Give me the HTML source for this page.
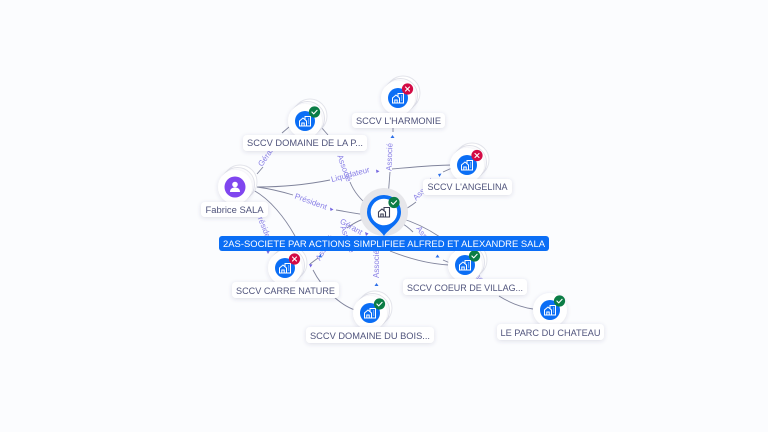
<!DOCTYPE html>
<html>
<head>
<meta charset="utf-8">
<style>
html,body{margin:0;padding:0;background:#fbfcfe;}
svg{display:block;}
text{font-family:"Liberation Sans",sans-serif;}
.l{font-size:9px;fill:#50547c;text-anchor:middle;}
.e{font-size:8px;fill:#8a80e6;text-anchor:middle;}
.c{fill:none;stroke:#80849c;stroke-width:.9;}
.ck{fill:none;stroke:#fff;stroke-width:1.1;stroke-linecap:round;stroke-linejoin:round;}
</style>
</head>
<body>
<svg width="768" height="432" viewBox="0 0 768 432" xmlns="http://www.w3.org/2000/svg">
<defs>
<filter id="s" x="-40%" y="-40%" width="180%" height="180%"><feDropShadow dx="0" dy="1" stdDeviation="2" flood-color="#3a4070" flood-opacity=".16"/></filter>
<g id="b" fill="none" stroke="#fff" stroke-width="1"><path d="M-5.500 5V0L-2 -3L1.500 0V5Z"/><path d="M-3.200 5V2H-.8V5"/><path d="M0 -1.500V-4.500H5.500V5H1.500"/><path d="M3 -2h1.200M3 0h1.200M3 2h1.200" stroke-width=".8"/></g>
<g id="stk">
<circle cx="5" cy="-5" r="17" fill="#fff" stroke="#e2e3ea" stroke-width=".9"/>
<circle cx="2.500" cy="-2.500" r="17" fill="#fff" stroke="#e2e3ea" stroke-width=".9"/>
<circle r="17" fill="#fff" filter="url(#s)"/>
</g>
<g id="ok"><circle r="5.600" fill="#0b7d45"/><path class="ck" d="M-2.600 0l1.800 1.900 3.400-3.600"/></g>
<g id="ko"><circle r="5.600" fill="#d30b45"/><path class="ck" d="M-2 -2l4 4M2 -2l-4 4"/></g>
</defs>

<!-- connectors -->
<path class="c" d="M257 187C290 187 315 183 330 180"/>
<path class="c" d="M392 169C415 167 435 165 452 165"/>
<path class="c" d="M257 187C272 189 283 192 293 195"/>
<path class="c" d="M336 210C348 212 358 214 368 215"/>
<path class="c" d="M257 174L263 167"/>
<path class="c" d="M282 133L289 127"/>
<path class="c" d="M321 127L328 135"/>
<path class="c" d="M350 182C354 192 362 201 370 207"/>
<path class="c" d="M388 198L390 172"/>
<path class="c" d="M393 128V132"/>
<path class="c" d="M400 212C406 209 411 206 416 202"/>
<path class="c" d="M443 172L452 168"/>
<path class="c" d="M253 190C270 199 285 218 295 236"/>
<path class="c" d="M347 228C354 223 361 219 368 218"/>
<path class="c" d="M400 218C414 222 428 229 440 237"/>
<path class="c" d="M400 222C405 225 409 228 413 232"/>
<path class="c" d="M390 251C410 259 430 264 449 265"/>
<path class="c" d="M443 260L450 263"/>
<path class="c" d="M499 296C510 303 520 307 533 309"/>
<path class="c" d="M313 270C322 288 340 305 355 310"/>
<path class="c" d="M318 258L310 264"/>

<!-- edge labels -->
<text class="e" transform="translate(269 157) rotate(-55)">Gérant</text>
<text class="e" transform="translate(342 169) rotate(70)">Associé</text>
<text class="e" transform="translate(392 157) rotate(-88)">Associé</text>
<text class="e" transform="translate(351 177) rotate(-15)">Liquidateur</text>
<text class="e" transform="translate(310 204) rotate(20)">Président</text>
<text class="e" transform="translate(350 229) rotate(30)">Gérant</text>
<text class="e" transform="translate(345 240) rotate(70)">Associé</text>
<text class="e" transform="translate(262 229) rotate(68)">Président</text>
<text class="e" transform="translate(426 191) rotate(-45)">Associé</text>
<text class="e" transform="translate(424 240) rotate(55)">Associé</text>
<text class="e" transform="translate(379 264) rotate(-90)">Associé</text>
<text class="e" transform="translate(478 280) rotate(50)">Associé</text>
<text class="e" transform="translate(327 249) rotate(-60)">Associé</text>

<!-- arrowheads -->
<g fill="#7466e0">
<path d="M376 169.500l.5 3.500 3-1.800z M330 207.500l.5 3.500 3-1.500z M309 264l3.500 .5-2 3z M365 232l1 4 2.500-2.500z M266 250l2 4 2-3.500z"/>
</g>
<g fill="#2d6fe8">
<path d="M392.500 135l-2 3h4z M438 174l1.500 3 2-3.500z M376.500 283l-2 3h4z M437.500 254.500l-2 3h4z M320.500 254l-2 3 3.500 .5z"/>
</g>

<!-- center -->
<circle cx="384" cy="212" r="24" fill="#e6e6ea"/>
<path d="M384 236C379 228 367 224 367 212a17 17 0 0 1 34 0C401 224 389 228 384 236z" fill="#0b6ef5"/>
<circle cx="384" cy="212" r="13.300" fill="#fff"/>
<g transform="translate(384 212)" fill="none" stroke="#3b3f55" stroke-width="1.100"><path d="M-5.500 5V0L-2 -3L1.500 0V5Z"/><path d="M-3.200 5V2H-.8V5"/><path d="M0 -1.500V-4.500H5.500V5H1.500"/></g>
<use href="#ok" x="394" y="202.500"/>

<!-- nodes -->
<g transform="translate(235 187)"><use href="#stk"/><circle r="10.500" fill="#8046ef"/><circle cy="-2.500" r="2.800" fill="#fff"/><path d="M-5 5c0-3.500 2.500-4.500 5-4.500s5 1 5 4.500z" fill="#fff"/></g>
<g transform="translate(305 121)"><use href="#stk"/><circle r="10" fill="#0b6ef5"/><use href="#b"/><use href="#ok" x="9.500" y="-9"/></g>
<g transform="translate(398 98)"><use href="#stk"/><circle r="10" fill="#0b6ef5"/><use href="#b"/><use href="#ko" x="9.500" y="-9"/></g>
<g transform="translate(467 165)"><use href="#stk"/><circle r="10" fill="#0b6ef5"/><use href="#b"/><use href="#ko" x="10" y="-9.500"/></g>
<g transform="translate(285 268)"><use href="#stk"/><circle r="10" fill="#0b6ef5"/><use href="#b"/><use href="#ko" x="9.500" y="-9"/></g>
<g transform="translate(370 313)"><use href="#stk"/><circle r="10" fill="#0b6ef5"/><use href="#b"/><use href="#ok" x="9.500" y="-9"/></g>
<g transform="translate(465 265)"><use href="#stk"/><circle r="10" fill="#0b6ef5"/><use href="#b"/><use href="#ok" x="9.500" y="-9"/></g>
<g transform="translate(550 310)"><circle r="17" fill="#fff" filter="url(#s)"/><circle r="10" fill="#0b6ef5"/><use href="#b"/><use href="#ok" x="9.500" y="-9"/></g>

<!-- labels -->
<g fill="#fff" filter="url(#s)">
<rect x="243" y="135" width="124" height="16" rx="4"/>
<rect x="352" y="113" width="93" height="15" rx="4"/>
<rect x="423" y="179" width="89" height="16" rx="4"/>
<rect x="201" y="202" width="67" height="15" rx="4"/>
<rect x="232" y="282" width="107" height="16" rx="4"/>
<rect x="306" y="327" width="128" height="16" rx="4"/>
<rect x="403" y="279" width="124" height="16" rx="4"/>
<rect x="497" y="324" width="107" height="16" rx="4"/>
</g>
<rect x="219" y="236" width="330" height="15" rx="3" fill="#0b6ef5"/>
<text class="l" x="305" y="146" textLength="116" lengthAdjust="spacingAndGlyphs">SCCV DOMAINE DE LA P...</text>
<text class="l" x="398.500" y="124" textLength="85" lengthAdjust="spacingAndGlyphs">SCCV L'HARMONIE</text>
<text class="l" x="467.500" y="190" textLength="80" lengthAdjust="spacingAndGlyphs">SCCV L'ANGELINA</text>
<text class="l" x="234.500" y="213" textLength="58" lengthAdjust="spacingAndGlyphs">Fabrice SALA</text>
<text class="l" x="285.500" y="294" textLength="99" lengthAdjust="spacingAndGlyphs">SCCV CARRE NATURE</text>
<text class="l" x="370" y="339" textLength="120" lengthAdjust="spacingAndGlyphs">SCCV DOMAINE DU BOIS...</text>
<text class="l" x="465" y="291" textLength="116" lengthAdjust="spacingAndGlyphs">SCCV COEUR DE VILLAG...</text>
<text class="l" x="550.500" y="336" textLength="100" lengthAdjust="spacingAndGlyphs">LE PARC DU CHATEAU</text>
<text class="l" x="384" y="247" style="fill:#fff" textLength="322" lengthAdjust="spacingAndGlyphs">2AS-SOCIETE PAR ACTIONS SIMPLIFIEE ALFRED ET ALEXANDRE SALA</text>
</svg>
</body>
</html>
